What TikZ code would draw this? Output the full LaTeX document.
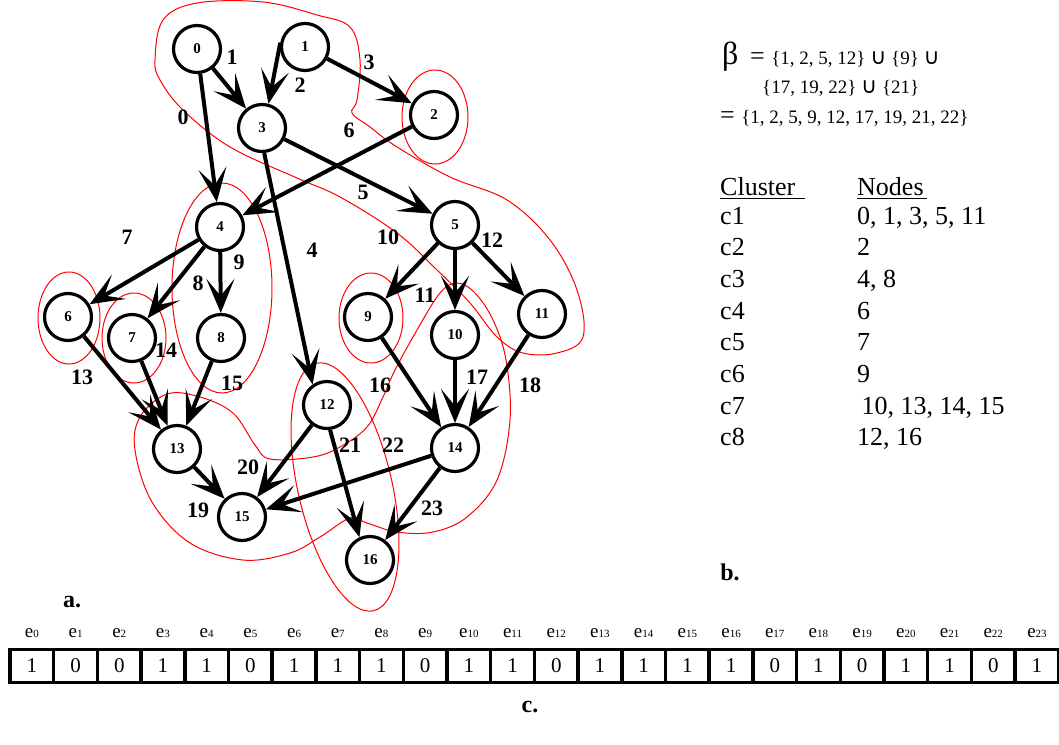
\documentclass[tikz,border=0pt]{standalone}
\usepackage{fontspec}
\setmainfont{Liberation Serif}
\newfontfamily\djv{DejaVu Sans}
\usetikzlibrary{arrows.meta}
\begin{document}
\begin{tikzpicture}[x=1pt,y=-1pt,
  vtx/.style={circle,draw,line width=3.2pt,minimum size=47pt,inner sep=0pt,font=\bfseries\fontsize{15}{15}\selectfont},
  edge/.style={line width=4pt,-{Stealth[length=34pt,width=28pt,inset=17pt]}},
  elab/.style={font=\bfseries\fontsize{22}{22}\selectfont,inner sep=0pt},
  clu/.style={red,line width=1pt},
  txt/.style={anchor=base west,inner sep=0pt,font=\fontsize{26}{26}\selectfont},
  cellbox/.style={draw,line width=3.5pt,minimum width=43.7pt,minimum height=33pt,inner sep=0pt,font=\fontsize{21}{21}\selectfont},
  elbl/.style={anchor=base,inner sep=0pt},
  sublab/.style={font=\bfseries\fontsize{24}{24}\selectfont,inner sep=0pt}
]
\path[use as bounding box] (0,0) rectangle (1059,744);

% clusters
\draw[clu] plot[smooth cycle,tension=0.6] coordinates {(155,60) (163,20) (197,3) (263,2) (317,15) (350,27) (360,60) (357,100) (352,113) (370,127) (397,147) (450,177) (507,200) (550,240) (577,290) (583,337) (557,353) (523,353) (497,337) (470,303) (437,270) (397,233) (340,197) (297,178) (230,147) (183,110) (160,80)};
\draw[clu] (435,117) ellipse [x radius=33pt, y radius=47pt];
\draw[clu] (222,288) ellipse [x radius=50pt, y radius=105pt];
\draw[clu] (69,318) ellipse [x radius=31pt, y radius=46pt];
\draw[clu] (134,338) ellipse [x radius=32pt, y radius=45pt];
\draw[clu] (371,318) ellipse [x radius=32pt, y radius=45pt];
\draw[clu] plot[smooth cycle,tension=0.6] coordinates {(457,283) (475,293) (493,320) (506,360) (510,420) (497,480) (467,517) (433,532) (397,532) (367,523) (350,518) (320,537) (290,553) (243,560) (190,543) (152,502) (135,450) (140,417) (167,394) (200,397) (233,413) (255,445) (270,459) (313,457) (340,447) (367,427) (383,397) (395,370) (417,330) (440,293)};
\draw[clu] (345,487) ellipse [x radius=127pt, y radius=47pt, rotate=-77];

% vertices
\node[vtx] (n0) at (197,49) {0};
\node[vtx] (n1) at (305,47) {1};
\node[vtx] (n2) at (434,115) {2};
\node[vtx] (n3) at (262,128) {3};
\node[vtx] (n4) at (220,227) {4};
\node[vtx] (n5) at (455,225) {5};
\node[vtx] (n6) at (68,317) {6};
\node[vtx] (n7) at (132,338) {7};
\node[vtx] (n8) at (221,338) {8};
\node[vtx] (n9) at (368,317) {9};
\node[vtx] (n10) at (455,335) {10};
\node[vtx] (n11) at (542,314) {11};
\node[vtx] (n12) at (327,405) {12};
\node[vtx] (n13) at (177,449) {13};
\node[vtx] (n14) at (455,448) {14};
\node[vtx] (n15) at (242,517) {15};
\node[vtx] (n16) at (370,560) {16};

% edges
\draw[edge] (n0) -- (n4);
\draw[edge] (n0) -- (n3);
\draw[edge] (n1.170) -- (n3.75);
\draw[edge] (n1) -- (n2);
\draw[edge] (n3.-85) -- (n12.125);
\draw[edge] (n3) -- (n5);
\draw[edge] (n2) -- (n4);
\draw[edge] (n4) -- (n6);
\draw[edge] (n4) -- (n7);
\draw[edge] (n4) -- (n8);
\draw[edge] (n5) -- (n9);
\draw[edge] (n5) -- (n10);
\draw[edge] (n5) -- (n11);
\draw[edge] (n6) -- (n13);
\draw[edge] (n7) -- (n13);
\draw[edge] (n8) -- (n13);
\draw[edge] (n9) -- (n14);
\draw[edge] (n10) -- (n14);
\draw[edge] (n11) -- (n14);
\draw[edge] (n13) -- (n15);
\draw[edge] (n12) -- (n15);
\draw[edge] (n12.-83) -- (n16.115);
\draw[edge] (n14) -- (n15);
\draw[edge] (n14) -- (n16);

% edge labels
\node[elab] (l0) at (183,117) {0};
\node[elab] (l1) at (232,57) {1};
\node[elab] (l2) at (300,85) {2};
\node[elab] (l3) at (369,62) {3};
\node[elab] (l4) at (312,250) {4};
\node[elab] (l5) at (363,192) {5};
\node[elab] (l6) at (349,130) {6};
\node[elab] (l7) at (127,237) {7};
\node[elab] (l8) at (198,283) {8};
\node[elab] (l9) at (239,262) {9};
\node[elab] (l10) at (388,237) {10};
\node[elab] (l11) at (425,295) {11};
\node[elab] (l12) at (492,240) {12};
\node[elab] (l13) at (82,377) {13};
\node[elab] (l14) at (166,350) {14};
\node[elab] (l15) at (232,383) {15};
\node[elab] (l16) at (380,385) {16};
\node[elab] (l17) at (477,377) {17};
\node[elab] (l18) at (530,385) {18};
\node[elab] (l19) at (198,510) {19};
\node[elab] (l20) at (248,467) {20};
\node[elab] (l21) at (350,445) {21};
\node[elab] (l22) at (393,445) {22};
\node[elab] (l23) at (432,508) {23};

% part b
\node[anchor=base west,inner sep=0pt,font=\fontsize{32}{32}\selectfont] (beta) at (722,64) {β};
\node[anchor=base west,inner sep=0pt] (eq1) at (750,64) {\fontsize{26}{26}\selectfont =\ \fontsize{19}{19}\selectfont \{1, 2, 5, 12\} {\djv\fontsize{22}{22}\selectfont ∪} \{9\} {\djv\fontsize{22}{22}\selectfont ∪}};
\node[anchor=base west,inner sep=0pt] (eq2) at (762,93) {\fontsize{19}{19}\selectfont \{17, 19, 22\} {\djv\fontsize{22}{22}\selectfont ∪} \{21\}};
\node[anchor=base west,inner sep=0pt] (eq3) at (720,123) {\fontsize{26}{26}\selectfont =\ \fontsize{19}{19}\selectfont \{1, 2, 5, 9, 12, 17, 19, 21, 22\}};

\node[txt] (hc) at (720,195) {Cluster};
\node[txt] (hn) at (857,195) {Nodes};
\draw[line width=1.2pt] (720,198.5) -- (805,198.5);
\draw[line width=1.2pt] (857,198.5) -- (927,198.5);
\foreach \c/\v [count=\i from 0] in {c1/{0, 1, 3, 5, 11},c2/2,c3/{4, 8},c4/6,c5/7,c6/9,c7/{\,10, 13, 14, 15},c8/{12, 16}}{
  \node[txt] (cl\i) at (720,224+31.7*\i) {\c};
  \node[txt] (cn\i) at (857,224+31.7*\i) {\v};
}
\node[sublab] (lb) at (730,572) {b.};
\node[sublab] (la) at (72,602) {a.};

% part c
\foreach \b [count=\i from 0] in {1,0,0,1,1,0,1,1,1,0,1,1,0,1,1,1,1,0,1,0,1,1,0,1}{
  \node[cellbox] (cell\i) at (10+21.85+43.7*\i,666) {\b};
  \node[elbl] (e\i) at (10+21.85+43.7*\i,637) {\fontsize{19}{19}\selectfont e\fontsize{11}{11}\selectfont\i};
}
\node[sublab] (lc) at (530,707) {c.};
\end{tikzpicture}
\end{document}
